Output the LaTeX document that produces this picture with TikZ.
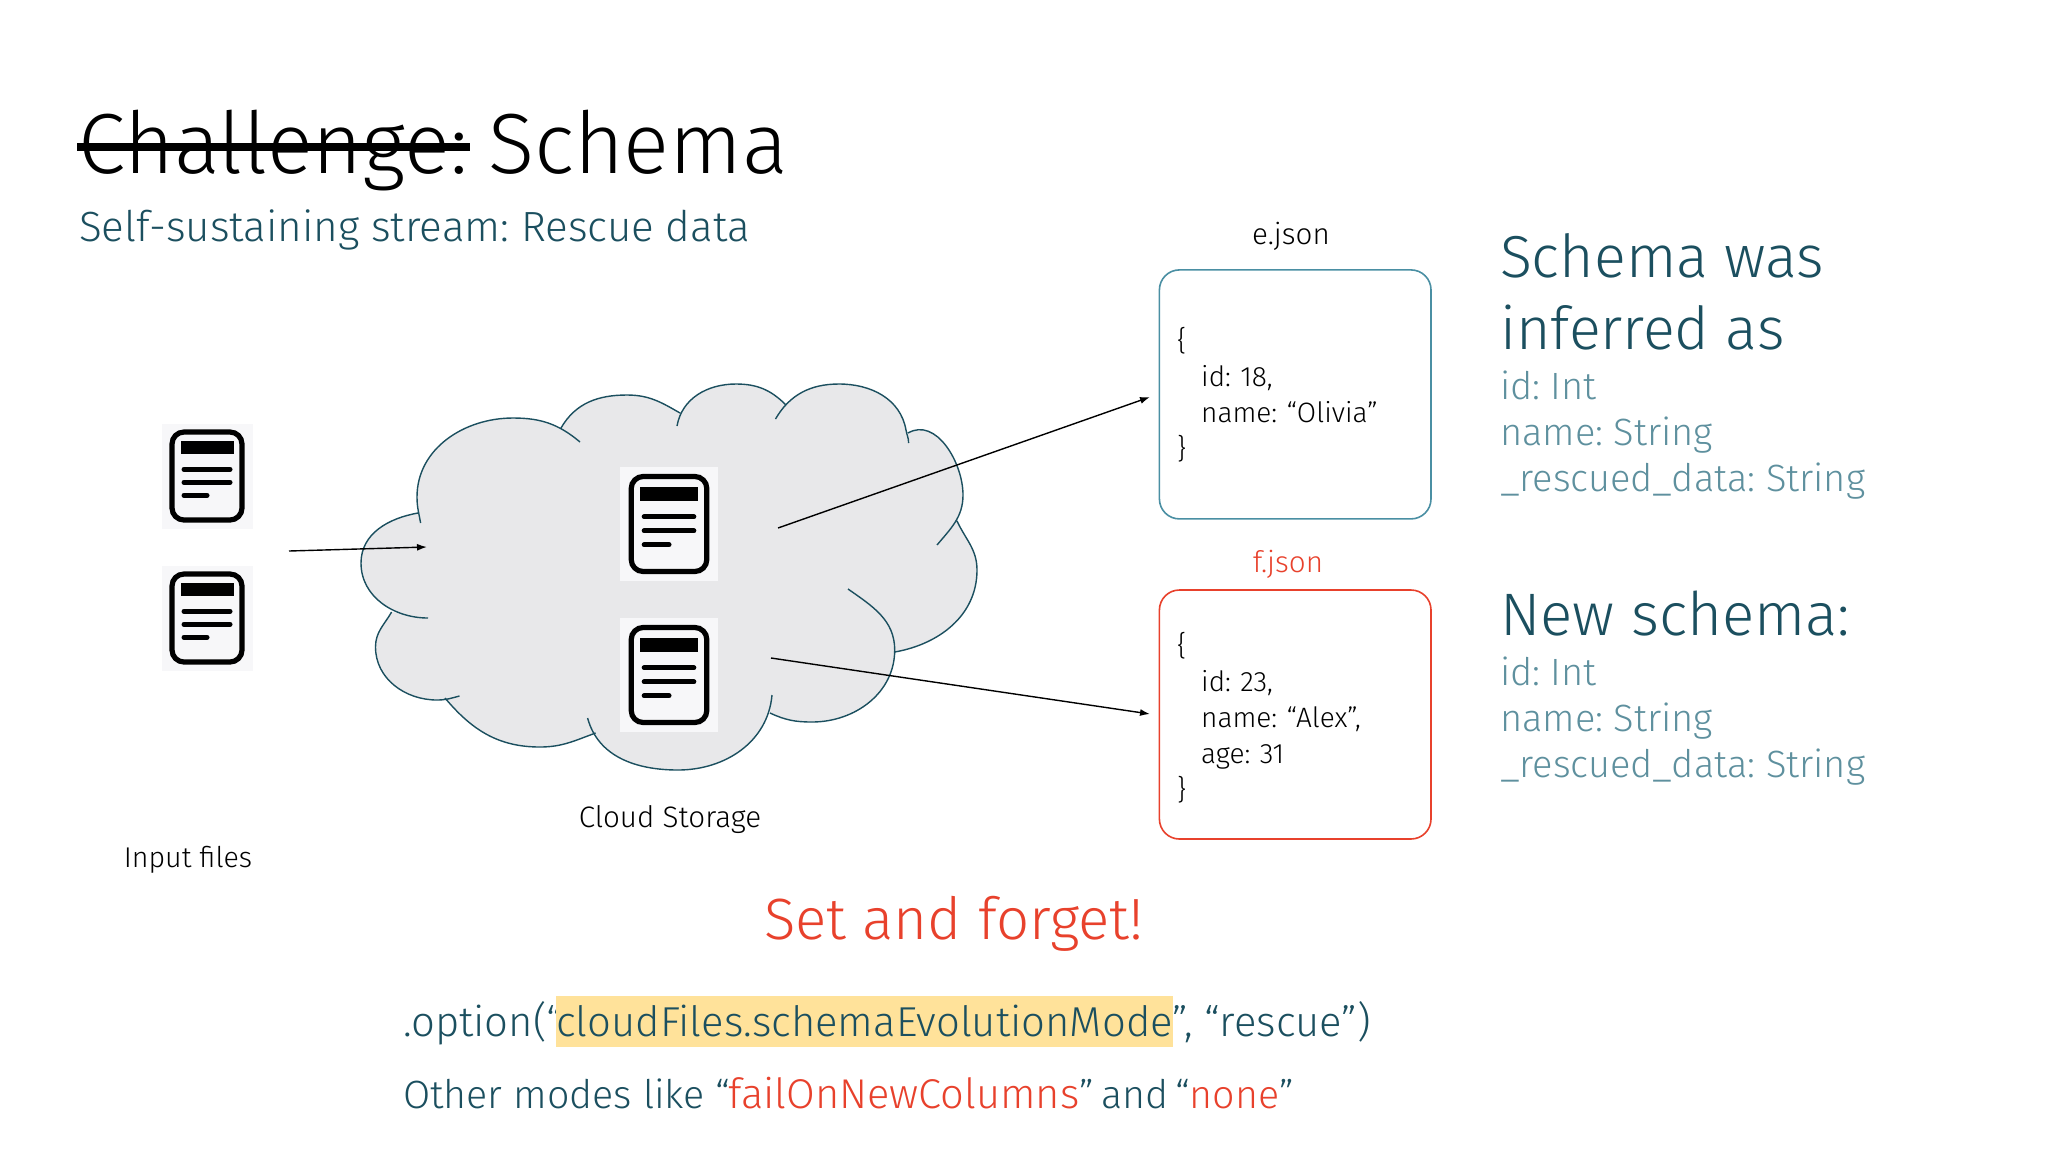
\documentclass[tikz,border=0pt]{standalone}
\usepackage{fontspec}
\setmainfont{Fira Sans Light}
\usepackage{tikz}
\usetikzlibrary{positioning}
\usetikzlibrary{arrows.meta}

\definecolor{tealdark}{HTML}{1B4F5F}
\definecolor{teallight}{HTML}{5E909E}
\definecolor{tealbox}{HTML}{4A8FA3}
\definecolor{redtext}{HTML}{E8412C}
\definecolor{cloudgrey}{HTML}{E8E8EA}
\definecolor{docgrey}{HTML}{F7F7F9}
\definecolor{hiyellow}{HTML}{FFE29A}

\newcommand{\fsz}[1]{\fontsize{#1}{#1}\selectfont}
\newcommand{\hilite}[1]{\setlength{\fboxsep}{0pt}\colorbox{hiyellow}{\rule[-5.5pt]{0pt}{25.5pt}#1}}

% the outline, lobe after lobe; #1 joins them
\newcommand{\cloudpath}[1]{
	(420.6,523) to[out=100,in=-90] (417,497) to[out=90,in=180] (513,418) to[out=0,in=140] (580,442)
	#1 (561,428) to[out=60,in=180] (627,395) to[out=0,in=150] (680,413)
	#1 (677,426) to[out=80,in=180] (736,384) to[out=0,in=135] (786,405)
	#1 (775.5,419) to[out=60,in=180] (839,384) to[out=0,in=100] (906,430) to[out=-80,in=90] (908.6,443)
	#1 (908,433) to[out=30,in=90] (963,495) to[out=-90,in=50] (937,545)
	#1 (957,521) to[out=-65,in=90] (977,570) to[out=-90,in=10] (894.7,652)
	#1 (848,589) to[out=-35,in=90] (894.7,650) to[out=-90,in=0] (812,722) to[out=180,in=-25] (770,713)
	#1 (772,695) to[out=-95,in=0] (678,770) to[out=180,in=-75] (587.6,718)
	#1 (595.6,733) to[out=200,in=0] (540,747) to[out=180,in=-50] (445,698)
	#1 (459.5,696) to[out=195,in=0] (437,700) to[out=180,in=-90] (375.5,647) to[out=90,in=-120] (391.6,612)
	#1 (428,618) to[out=180,in=-90] (361,563) to[out=90,in=190] (418,513)
}

\tikzset{
	txt/.style={anchor=base west, inner sep=0pt, outer sep=0pt},
	captxt/.style={anchor=base, inner sep=0pt, outer sep=0pt, font=\fsz{14.8}},
	jsonbox/.style={draw, line width=.8pt, rounded corners=10pt, fill=white, minimum width=135.8pt,
		minimum height=124.5pt, text width=118pt, align=left, inner sep=0pt, font=\fontsize{14}{18}\selectfont},
	wire/.style={line width=.7pt, -{Latex[length=5pt,width=3.5pt]}},
	docback/.style={fill=docgrey, inner sep=0pt},
	docicon/.pic={
		\draw [line width=2.6pt, rounded corners=6pt, fill=docgrey] (-35,-44) rectangle (35,44);
		\fill (-26.5,-34.7) rectangle (26.5,-21.7);
		\draw [line width=2.5pt, line cap=round] (-23,-6.7) -- (23,-6.7);
		\draw [line width=2.5pt, line cap=round] (-23,6.3) -- (23,6.3);
		\draw [line width=2.5pt, line cap=round] (-23,19.3) -- (0,19.3);
	},
}

\begin{document}
\frenchspacing
\begin{tikzpicture}[x=.5pt, y=-.5pt]

	\useasboundingbox [fill=white] (0,0) rectangle (2048,1152);

	% heading
	\node [txt, font=\fsz{42.7}] (chal) at (78,173) {Challenge:};
	\node [txt, font=\fsz{42.7}] (schema) at (488,173) {Schema};
	\coordinate (strikeL) at (77,147);
	\coordinate (strikeR) at (470,147);
	\draw [line width=4pt] (strikeL) -- (strikeR);
	\node [txt, font=\fsz{21.1}, text=tealdark] (sub) at (79,241) {Self-sustaining stream: Rescue data};

	% input files
	\node [docback, minimum width=45.5pt, minimum height=52.5pt] (fileA) at (207,476) {};
	\pic at (fileA) {docicon};
	\node [docback, minimum width=45.5pt, minimum height=52.5pt] (fileB) at (207,618) {};
	\pic at (fileB) {docicon};
	\node [captxt, font=\fsz{14.3}] (inputlbl) at (188,867) {Input files};

	% cloud
	\fill [cloudgrey] \cloudpath{--};
	\draw [tealdark, line width=.7pt] \cloudpath{};
	\node [docback, minimum width=49pt, minimum height=57pt] (storeA) at (669,524) {};
	\pic [scale=1.08] at (storeA) {docicon};
	\node [docback, minimum width=49pt, minimum height=57pt] (storeB) at (669,675) {};
	\pic [scale=1.08] at (storeB) {docicon};
	\node [captxt] (cloudlbl) at (670,827) {Cloud Storage};

	% json files
	\node [jsonbox, draw=tealbox] (ebox) at (1295.2,394.4) {\{\\\hspace*{12pt}id: 18,\\\hspace*{12pt}name: “Olivia”\\\}};
	\node [jsonbox, draw=redtext] (fbox) at (1295.2,714.5) {\rule{0pt}{14.5pt}\{\\\hspace*{12pt}id: 23,\\\hspace*{12pt}name: “Alex”,\\\hspace*{12pt}age: 31\\\}};
	\node [captxt] (elbl) at (1291,244) {e.json};
	\node [captxt, text=redtext] (flbl) at (1288,572) {f.json};

	% connectors
	\coordinate (inA) at (289,551);
	\coordinate (inB) at (427,547);
	\coordinate (outA) at (778,528);
	\coordinate (tipA) at (1150,397);
	\coordinate (outB) at (771,658);
	\coordinate (tipB) at (1150,714);
	\draw [wire] (inA) -- (inB);
	\draw [wire] (outA) -- (tipA);
	\draw [wire] (outB) -- (tipB);

	% right column
	\node [txt, font=\fsz{29.6}, text=tealdark] (schemaA) at (1500,277) {Schema was};
	\node [txt, font=\fsz{29.6}, text=tealdark] (schemaB) at (1500,349) {inferred as};
	\node [txt, font=\fsz{19}, text=teallight] (fieldA) at (1500,399) {id: Int};
	\node [txt, font=\fsz{19}, text=teallight] (fieldB) at (1500,445) {name: String};
	\node [txt, font=\fsz{19}, text=teallight] (fieldC) at (1500,491) {\_rescued\_data: String};
	\node [txt, font=\fsz{30}, text=tealdark] (newA) at (1500,635) {New schema:};
	\node [txt, font=\fsz{19}, text=teallight] (newB) at (1500,685) {id: Int};
	\node [txt, font=\fsz{19}, text=teallight] (newC) at (1500,731) {name: String};
	\node [txt, font=\fsz{19}, text=teallight] (newD) at (1500,777) {\_rescued\_data: String};

	% bottom
	\node [txt, font=\fsz{29.1}, text=redtext] (forget) at (764,939) {Set and forget!};
	\node [txt, font=\fsz{20.9}, text=tealdark] (option) at (403,1036)
		{.option(“\kern-3pt\hilite{cloudFiles.schemaEvolutionMode}”, “rescue”)};
	\node [txt, font=\fsz{19.7}, text=tealdark] (modes) at (403,1108)
		{Other modes like “\kern-1pt\textcolor{redtext}{\fsz{20.8}failOnNewColumns}”\kern-2pt\ and\ \kern-2pt“\textcolor{redtext}{none}”};

\end{tikzpicture}
\end{document}
